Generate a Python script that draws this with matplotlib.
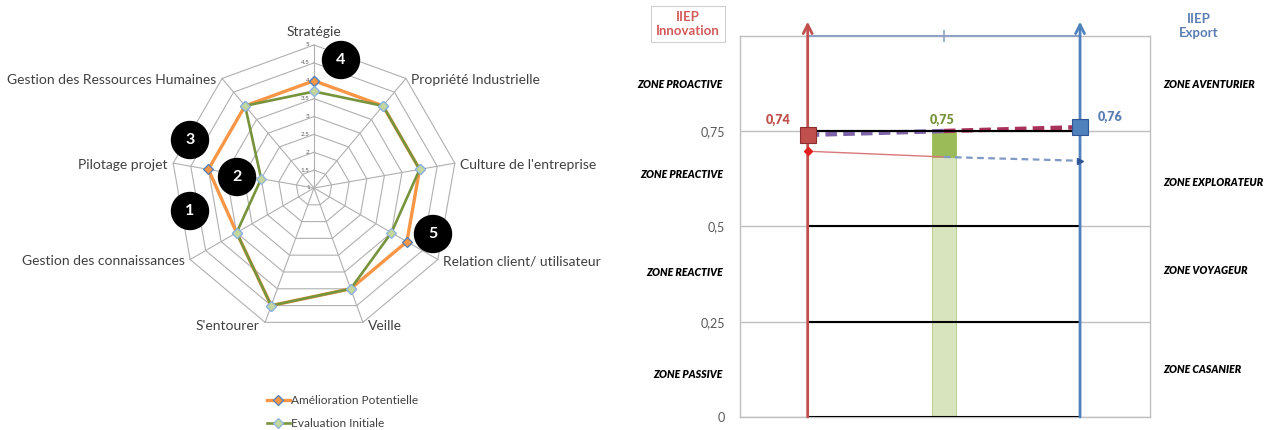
import numpy as np
import matplotlib
matplotlib.use('Agg')
import matplotlib.pyplot as plt
from matplotlib.patches import Circle

plt.rcParams['font.family'] = ['Lato', 'DejaVu Sans']

# --- données radar ---
categories = ["Stratégie", "Propriété Industrielle", "Culture de l'entreprise",
              "Relation client/ utilisateur", "Veille", "S'entourer",
              "Gestion des connaissances", "Pilotage projet",
              "Gestion des Ressources Humaines"]
amelioration = [4.0, 4.0, 4.0, 4.0, 4.0, 4.5, 3.5, 4.0, 4.0]
evaluation = [3.7, 4.0, 4.0, 3.5, 4.0, 4.5, 3.5, 2.5, 4.0]
niveaux = [1, 1.5, 2, 2.5, 3, 3.5, 4, 4.5, 5]
etiquettes_niveaux = ["1", "1.5", "2", "2.5", "3", "3.5", "4", "4.5", "5"]

# pastilles numérotées (position en pixels de la figure)
pastilles = ["4", "3", "2", "1", "5"]
pastilles_px = [(341, 60), (190, 140), (237, 177), (190, 211), (433, 234)]

# --- données IIEP ---
iiep_x = [1, 2, 3]
iiep_valeurs = [0.74, 0.75, 0.76]
iiep_labels = ["0,74", "0,75", "0,76"]
iiep_couleurs = ["#c0504d", "#76923c", "#5b7db1"]
barre_base = 0.683
tendance = [0.697, 0.682, 0.672]
paliers = [0, 0.25, 0.5, 0.75]
paliers_labels = ["0", "0,25", "0,5", "0,75"]
zones_gauche = ["ZONE PROACTIVE", "ZONE PREACTIVE", "ZONE REACTIVE", "ZONE PASSIVE"]
zones_gauche_y = [0.872, 0.637, 0.378, 0.112]
zones_droite = ["ZONE AVENTURIER", "ZONE EXPLORATEUR", "ZONE VOYAGEUR", "ZONE CASANIER"]
zones_droite_y = [0.872, 0.616, 0.384, 0.125]

W, H = 1266, 430
fig = plt.figure(figsize=(W / 100, H / 100), dpi=100)

# =====================================================
# 1. RADAR
# =====================================================
S = 35.75            # pixels par unité
cx, cy = 314, 188    # centre en pixels
axr = fig.add_axes([0, 0, 630 / W, 1])
axr.set_xlim(-cx / S, (630 - cx) / S)
axr.set_ylim(-(H - cy) / S, cy / S)
axr.axis('off')

n = len(categories)
theta = np.arange(n) * 2 * np.pi / n
sx, sy = np.sin(theta), np.cos(theta)
gris = "#b0b0b0"

for lv in niveaux[1:]:
    r = lv - 1
    axr.plot(np.append(r * sx, r * sx[0]), np.append(r * sy, r * sy[0]),
             color=gris, lw=0.8, zorder=1)
rmax = niveaux[-1] - 1
for i in range(n):
    axr.plot([0, rmax * sx[i]], [0, rmax * sy[i]], color=gris, lw=0.8, zorder=1)

for lv, lab in zip(niveaux, etiquettes_niveaux):
    axr.text(-0.12, lv - 1, lab, fontsize=4.5, color="#595959",
             ha='right', va='center', zorder=2)

# étiquettes des catégories
for i, cat in enumerate(categories):
    x, y = rmax * sx[i], rmax * sy[i]
    if abs(sx[i]) < 0.1:
        ha, va, dx, dy = 'center', 'bottom', 0, 0.2
    elif sx[i] > 0:
        ha, va, dx, dy = 'left', 'center', 0.15, -0.05
    else:
        ha, va, dx, dy = 'right', 'center', -0.15, -0.05
    if abs(sy[i]) > 0.9 and sy[i] < 0:
        dy = -0.1
    axr.text(x + dx, y + dy, cat, fontsize=10, color="#404040", ha=ha, va=va)

def ferme(v):
    r = np.array(v) - 1
    xs, ys = r * sx, r * sy
    return np.append(xs, xs[0]), np.append(ys, ys[0])

xa, ya = ferme(amelioration)
l1, = axr.plot(xa, ya, color="#f79646", lw=2.4, marker='D', ms=5.5,
               mfc="#f79646", mec="#4f81bd", mew=0.9, zorder=3,
               label="Amélioration Potentielle")
xe, ye = ferme(evaluation)
l2, = axr.plot(xe, ye, color="#77933c", lw=1.9, marker='D', ms=5.5,
               mfc="#c3d69b", mec="#8eb4e3", mew=0.9, zorder=4,
               label="Evaluation Initiale")

for num, (px, py) in zip(pastilles, pastilles_px):
    c = ((px - cx) / S, (cy - py) / S)
    axr.add_patch(Circle(c, 18.5 / S, color="black", zorder=5))
    axr.text(c[0], c[1], num, color="white", fontsize=11.5, fontweight='bold',
             ha='center', va='center', zorder=6)

leg = axr.legend(handles=[l1, l2], loc='upper left',
                 bbox_to_anchor=(267 / 630, (H - 395) / H), frameon=False,
                 fontsize=8.6, handlelength=1.9, handletextpad=0.1,
                 labelspacing=1.0, borderpad=0, borderaxespad=0)
for t in leg.get_texts():
    t.set_color("#404040")

# =====================================================
# 2. IIEP
# =====================================================
left, right, top, bottom = 740, 1150, 35.7, 417
ax = fig.add_axes([left / W, (H - bottom) / H, (right - left) / W, (bottom - top) / H])
px_unit = 136.2
ax.set_xlim(1 - (807.7 - left) / px_unit, 3 + (right - 1080) / px_unit)
ax.set_ylim(0, 1)
for sp in ax.spines.values():
    sp.set_color("#bfbfbf")
    sp.set_linewidth(1.0)
ax.set_yticks(paliers)
ax.set_yticklabels(paliers_labels, fontsize=9, color="#595959")
ax.tick_params(axis='y', length=0, pad=11)
ax.yaxis.grid(True, color="#bfbfbf", lw=1.0)
ax.set_axisbelow(True)
ax.set_xticks([iiep_x[1]])
ax.tick_params(axis='x', bottom=False, labelbottom=False, top=True,
               direction='inout', length=9, color="#8ea2c8", width=1.2)

# barre centrale
ax.bar(iiep_x[1], barre_base, width=0.174, color="#d7e4bd",
       edgecolor="#b3c98a", lw=0.6, zorder=2)
ax.bar(iiep_x[1], iiep_valeurs[1] - barre_base, bottom=barre_base, width=0.174,
       color="#9bbb59", edgecolor="#9bbb59", lw=0.6, zorder=2)

# paliers noirs
ax.hlines(paliers, iiep_x[0], iiep_x[2], color="black", lw=1.5, zorder=3)
ax.hlines(1, iiep_x[0], iiep_x[2], color="#8ea2c8", lw=1.5, zorder=3, clip_on=False)

# axes fléchés
for x, c in [(iiep_x[0], "#c0504d"), (iiep_x[2], "#4f81bd")]:
    ax.annotate("", xy=(x, 1.037), xytext=(x, 0), xycoords='data',
                arrowprops=dict(arrowstyle='->', color=c, lw=2.0,
                                mutation_scale=16, shrinkA=0, shrinkB=0),
                annotation_clip=False, zorder=4)

# ligne pointillée entre les deux indices
xm = iiep_x[1]
ym = iiep_valeurs[0] + (iiep_valeurs[2] - iiep_valeurs[0]) * (xm - iiep_x[0]) / (iiep_x[2] - iiep_x[0])
ax.plot([iiep_x[0], xm], [iiep_valeurs[0], ym], color="#7f63a8", lw=3.2,
        ls=(0, (2.6, 1.4)), zorder=3.5)
ax.plot([xm, iiep_x[2]], [ym, iiep_valeurs[2]], color="#a8325c", lw=3.2,
        ls=(0, (2.6, 1.4)), zorder=3.5)
ax.hlines(paliers[-1], iiep_x[0], iiep_x[2], color="black", lw=1.5, zorder=3.6)

# tendance
ax.plot(iiep_x[:2], tendance[:2], color="#d9777a", lw=1.0, zorder=3.5)
ax.plot(iiep_x[0], tendance[0], marker='D', ms=4, color="#e02020", zorder=4)
ax.plot(iiep_x[1:], tendance[1:], color="#7f98c4", lw=1.6, ls=(0, (3, 2)), zorder=3.5)
ax.plot(iiep_x[2], tendance[2], marker='>', ms=5, color="#2f5597", zorder=4)

# marqueurs carrés
ax.plot(iiep_x[0], iiep_valeurs[0], marker='s', ms=12, mfc="#c0504d",
        mec="#8c2f2c", mew=0.8, zorder=5)
ax.plot(iiep_x[2], iiep_valeurs[2], marker='s', ms=12, mfc="#4f81bd",
        mec="#2f5597", mew=0.8, zorder=5)

# étiquettes de valeur
offsets = [(-0.22, 0.04), (-0.01, 0.03), (0.22, 0.027)]
for x, v, lab, c, (dx, dy) in zip(iiep_x, iiep_valeurs, iiep_labels, iiep_couleurs, offsets):
    ax.text(x + dx, v + dy, lab, color=c, fontsize=9, fontweight='heavy',
            ha='center', va='center')

# zones
xg = ax.get_xlim()[0] - (left - 723) / px_unit
xd = ax.get_xlim()[1] + (1163 - right) / px_unit
for lab, y in zip(zones_gauche, zones_gauche_y):
    ax.text(xg, y, lab, fontsize=7.6, fontweight='heavy', style='italic',
            ha='right', va='center', clip_on=False)
for lab, y in zip(zones_droite, zones_droite_y):
    ax.text(xd, y, lab, fontsize=7.6, fontweight='heavy', style='italic',
            ha='left', va='center', clip_on=False)

# titres des axes
fig.text(688 / W, 1 - 24 / H, "IIEP\nInnovation", color="#d55a5a", fontsize=9.5,
         fontweight='bold', ha='center', va='center', linespacing=1.2,
         bbox=dict(boxstyle='square,pad=0.4', fc='white', ec="#d0d0d0", lw=0.8))
fig.text(1199 / W, 1 - 26 / H, "IIEP\nExport", color="#5b7db1", fontsize=9.5,
         fontweight='bold', ha='center', va='center', linespacing=1.2)

fig.savefig("out.png", dpi=100, facecolor='white')
